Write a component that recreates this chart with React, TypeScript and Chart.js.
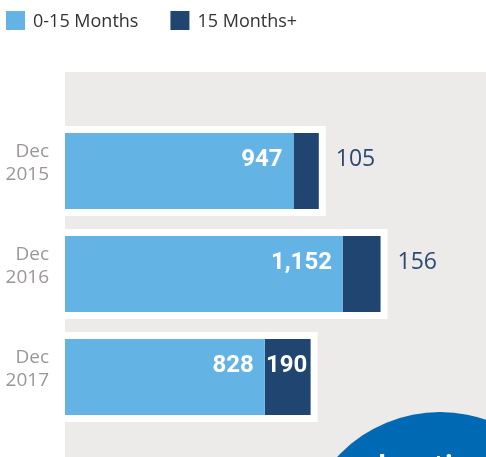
import { useEffect, useRef } from 'react';
import { Chart, registerables } from 'chart.js';

Chart.register(...registerables);

const categories = [['Dec', '2015'], ['Dec', '2016'], ['Dec', '2017']];
const seriesNames = ['0-15 Months', '15 Months+'];
const shortTerm = [947, 1152, 828];
const longTerm = [105, 156, 190];
const seriesColors = ['#63b4e5', '#1f4570'];
const axisMax = 1745;
const calloutText = 'location';

const PANEL = '#ecebe9';
const FONT = '"Open Sans", "Noto Sans", sans-serif';
const BOLD_FONT = 'Roboto, "Open Sans", sans-serif';

const panelPlugin = {
  id: 'panel',
  beforeDraw(chart: any) {
    const { ctx, chartArea, width, height } = chart;
    ctx.save();
    ctx.fillStyle = PANEL;
    ctx.fillRect(chartArea.left, chartArea.top - 47.5, width - chartArea.left, height);
    ctx.beginPath();
    ctx.arc(440, 552, 140, 0, Math.PI * 2);
    ctx.fillStyle = '#0069b4';
    ctx.fill();
    ctx.fillStyle = '#ffffff';
    ctx.font = `bold 27px ${FONT}`;
    ctx.textBaseline = 'alphabetic';
    ctx.textAlign = 'left';
    ctx.fillText(calloutText, 378, 474);
    ctx.restore();
  },
  beforeDatasetsDraw(chart: any) {
    const { ctx, chartArea } = chart;
    const m0 = chart.getDatasetMeta(0).data;
    const m1 = chart.getDatasetMeta(1).data;
    ctx.save();
    ctx.fillStyle = '#ffffff';
    for (let i = 0; i < m0.length; i++) {
      const a = m0[i] as any;
      const b = m1[i] as any;
      const end = Math.max(a.x, b.x);
      const h = a.height;
      ctx.fillRect(chartArea.left, a.y - h / 2 - 7, end + 7 - chartArea.left, h + 14);
    }
    ctx.restore();
  },
  afterDatasetsDraw(chart: any) {
    const { ctx } = chart;
    const m0 = chart.getDatasetMeta(0).data;
    const m1 = chart.getDatasetMeta(1).data;
    ctx.save();
    ctx.textBaseline = 'alphabetic';
    for (let i = 0; i < m0.length; i++) {
      const a = m0[i] as any;
      const b = m1[i] as any;
      const v0 = chart.data.datasets[0].data[i] as number;
      const v1 = chart.data.datasets[1].data[i] as number;
      const baseY = a.y - 5.5;
      ctx.font = `bold 24px ${BOLD_FONT}`;
      ctx.fillStyle = '#ffffff';
      ctx.textAlign = 'right';
      ctx.fillText(v0.toLocaleString('en-US'), a.x - 11, baseY);
      const t1 = v1.toLocaleString('en-US');
      const segW = b.x - a.x;
      const bw = ctx.measureText(t1).width;
      if (segW > bw + 2) {
        ctx.textAlign = 'center';
        ctx.fillText(t1, (a.x + b.x) / 2 - 1, baseY);
      } else {
        ctx.font = `23px ${FONT}`;
        ctx.fillStyle = '#2b4a73';
        ctx.textAlign = 'left';
        ctx.fillText(t1, b.x + 17, baseY);
      }
    }
    ctx.restore();
  },
  afterDraw(chart: any) {
    const { ctx } = chart;
    ctx.save();
    ctx.font = `18px ${FONT}`;
    ctx.textBaseline = 'alphabetic';
    ctx.textAlign = 'left';
    let x = 6;
    chart.data.datasets.forEach((ds: any) => {
      ctx.fillStyle = ds.backgroundColor;
      ctx.fillRect(x, 11, 19, 19);
      ctx.fillStyle = '#333333';
      ctx.fillText(ds.label, x + 27, 27);
      x += 27 + ctx.measureText(ds.label).width + 32;
    });
    ctx.restore();
  },
};

export default function App() {
  const ref = useRef<HTMLCanvasElement | null>(null);
  useEffect(() => {
    if (!ref.current) return;
    const chart = new Chart(ref.current, {
      type: 'bar',
      data: {
        labels: categories,
        datasets: [
          { label: seriesNames[0], data: shortTerm, backgroundColor: seriesColors[0] },
          { label: seriesNames[1], data: longTerm, backgroundColor: seriesColors[1] },
        ],
      },
      options: {
        indexAxis: 'y',
        responsive: false,
        devicePixelRatio: 1,
        animation: false,
        layout: { padding: { top: 119.5, bottom: 28.5, left: 0, right: 0 } },
        datasets: { bar: { categoryPercentage: 1, barPercentage: 0.738 } },
        plugins: { legend: { display: false }, tooltip: { enabled: false } },
        scales: {
          x: { stacked: true, display: false, min: 0, max: axisMax },
          y: {
            stacked: true,
            grid: { display: false, drawTicks: false },
            border: { display: false },
            ticks: {
              padding: 16,
              color: '#9c9797',
              labelOffset: -8,
              font: { family: FONT, size: 19, lineHeight: 1.23 },
            },
            afterFit: (s: any) => {
              s.width = 65;
              s.paddingTop = 0;
              s.paddingBottom = 0;
            },
          },
        },
      } as any,
      plugins: [panelPlugin],
    });
    return () => chart.destroy();
  }, []);
  return (
    <div style={{ position: 'fixed', left: 0, top: 0, width: 486, height: 457, background: '#fff' }}>
      <canvas ref={ref} width={486} height={457} />
    </div>
  );
}
